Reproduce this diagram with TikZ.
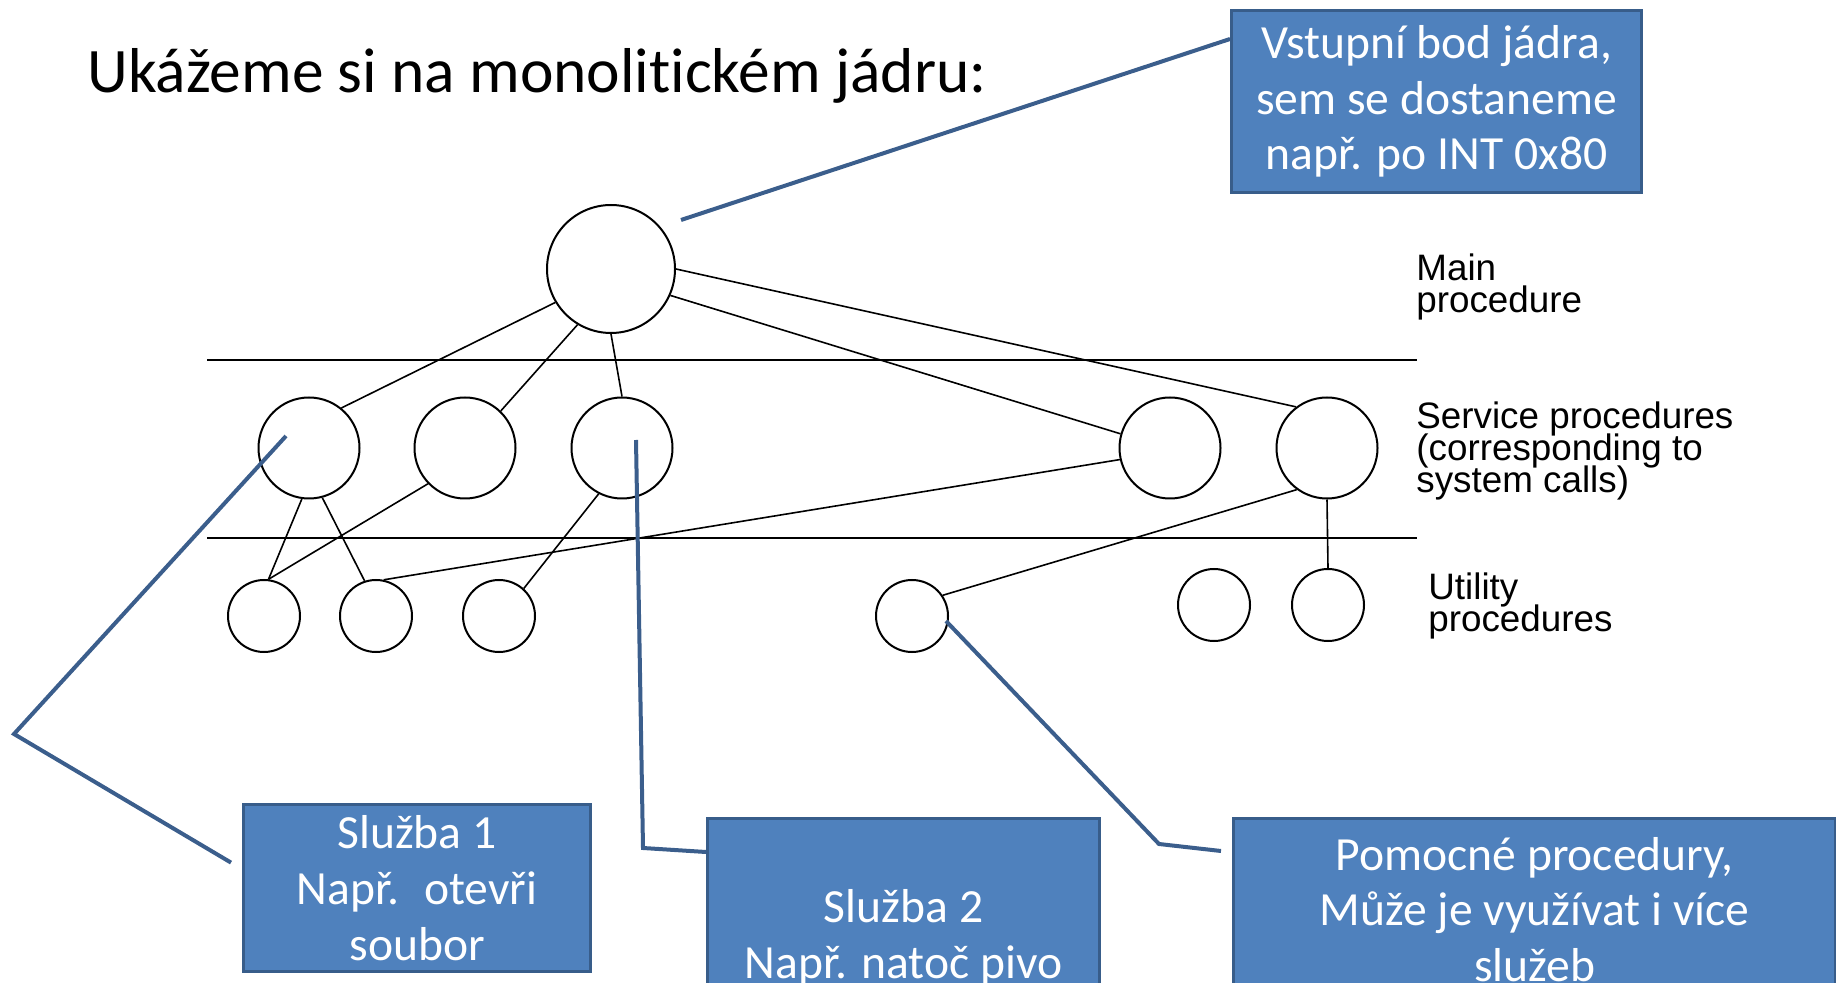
\documentclass[tikz,border=0pt]{standalone}
\usepackage{fontspec}
\setmainfont{Carlito}[Ligatures=NoCommon]
\newfontfamily\arialfont{Liberation Sans}
\usetikzlibrary{positioning}
\definecolor{boxfill}{HTML}{4F81BD}
\definecolor{boxline}{HTML}{385D8A}
\definecolor{callout}{HTML}{3B5E8C}
\newcommand{\titlefont}{\fontsize{31.7}{38}\selectfont}
\newcommand{\notefont}{\fontsize{23.8}{27.8}\selectfont}
\newcommand{\levelfont}{\arialfont\fontsize{18.4}{16.2}\selectfont\lineskiplimit=-20pt}

\begin{document}
\begin{tikzpicture}[
    x=0.5pt, y=-0.5pt,
    proc/.style={circle, draw, line width=1pt, inner sep=0pt},
    mainproc/.style={proc, minimum size=64pt},
    svcproc/.style={proc, minimum size=50.5pt},
    utilproc/.style={proc, minimum size=36pt},
    link/.style={line width=0.8pt},
    sep/.style={line width=0.9pt},
    level/.style={align=left, inner sep=0pt, anchor=base west, font=\levelfont},
    note/.style={rectangle, draw=boxline, line width=1.6pt, fill=boxfill,
                 text=white, align=center, inner sep=0pt, anchor=north west,
                 font=\notefont},
    pointer/.style={draw=callout, line width=2pt},
  ]
  \useasboundingbox (0,0) rectangle (1836,983);

  \node[anchor=base west, inner sep=0pt, font=\titlefont] (title) at (87,93)
    {Ukážeme si na monolitickém jádru:};

  % procedures
  \node[mainproc] (main) at (611,269) {};
  \node[svcproc] (s1) at (309,448) {};
  \node[svcproc] (s2) at (465,448) {};
  \node[svcproc] (s3) at (622,448) {};
  \node[svcproc] (s4) at (1170,448) {};
  \node[svcproc] (s5) at (1327,448) {};
  \node[utilproc] (u1) at (264,616) {};
  \node[utilproc] (u2) at (376,616) {};
  \node[utilproc] (u3) at (499,616) {};
  \node[utilproc] (u4) at (912,616) {};
  \node[utilproc] (u5) at (1214,605) {};
  \node[utilproc] (u6) at (1328,605) {};

  \draw[sep] (207,360) -- (1417,360);
  \draw[sep] (207,538) -- (1417,538);

  \node[level] (lmain) at (1416,312.6) {Main\\procedure};
  \node[level] (lsvc) at (1416,493) {Service procedures\\(corresponding to\\system calls)};
  \node[level] (lutil) at (1428,632) {Utility\\procedures};

  \draw[link] (main.211) -- (s1.51);
  \draw[link] (main.239) -- (s2.46);
  \draw[link] (main.270) -- (s3.90);
  \draw[link] (main.-24) -- (s4.164);
  \draw[link] (main.0) -- (s5.127);
  \draw[link] (s1.262) -- (u1.83);
  \draw[link] (s1.285) -- (u2.108);
  \draw[link] (s2.224) -- (u1.83);
  \draw[link] (s3.243) -- (u3.48);
  \draw[link] (s4.193) -- (u2.78);
  \draw[link] (s5.234) -- (u4.34);
  \draw[link] (s5.270) -- (u6.90);

  % callouts
  \node[note, minimum width=205pt, minimum height=91pt] (core) at (1230,9)
    {Vstupní bod jádra,\\sem se dostaneme\\např. po INT 0x80};
  \node[note, minimum width=173.5pt, minimum height=83.5pt] (svc1note) at (242,803)
    {Služba 1\\Např.~ otevři\\soubor};
  \node[note, minimum width=196pt, minimum height=119pt] (svc2note) at (706,817)
    {Služba 2\\Např. natoč pivo};
  \node[note, minimum width=301pt, minimum height=91pt] (utilnote) at (1232,817)
    {Pomocné procedury,\\Může je využívat i více\\služeb};

  \coordinate (entry) at (681,220);
  \coordinate (bend1) at (14,734);
  \coordinate (tip1) at (286,436);
  \coordinate (bend2) at (643,848);
  \coordinate (tip2) at (636,440);
  \coordinate (bend3) at (1159,844);
  \coordinate (tip3) at (946,621);

  \draw[pointer] ([yshift=-15pt]core.north west) -- (entry);
  \draw[pointer] ([xshift=-5.5pt,yshift=12.75pt]svc1note.west) -- (bend1) -- (tip1);
  \draw[pointer] ([yshift=-17.5pt]svc2note.north west) -- (bend2) -- (tip2);
  \draw[pointer] ([xshift=-5.5pt,yshift=-17pt]utilnote.north west) -- (bend3) -- (tip3);
\end{tikzpicture}
\end{document}
